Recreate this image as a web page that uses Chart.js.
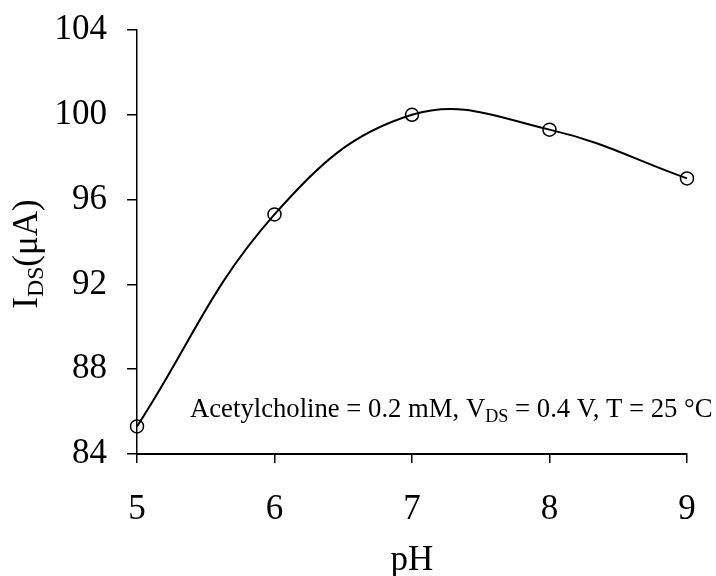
<!DOCTYPE html>
<html>
<head>
<meta charset="utf-8">
<script src="https://cdn.jsdelivr.net/npm/chart.js@4.4.1/dist/chart.umd.min.js"></script>
<style>
  html, body { margin: 0; padding: 0; background: #fff; }
  #wrap { width: 716px; height: 576px; }
</style>
</head>
<body>
<div id="wrap"><canvas id="phchart" width="716" height="576"></canvas></div>
<script>
// pH vs drain current data
var phValues = [5, 6, 7, 8, 9];
var currentValues = [85.3, 95.3, 100, 99.3, 97];
var yTicks = [84, 88, 92, 96, 100, 104];

var FONT = "'Liberation Serif', 'Times New Roman', serif";

// draws a run of text pieces, some of them as subscripts
function drawRich(ctx, parts, x, y, size) {
  var cx = x;
  parts.forEach(function (p) {
    var s = p.sub ? size * 0.68 : size;
    ctx.font = s + "px " + FONT;
    ctx.fillText(p.t, cx, p.sub ? y + size * 0.18 : y);
    cx += ctx.measureText(p.t).width;
  });
  return cx - x;
}

function richWidth(ctx, parts, size) {
  var w = 0;
  parts.forEach(function (p) {
    ctx.font = (p.sub ? size * 0.68 : size) + "px " + FONT;
    w += ctx.measureText(p.t).width;
  });
  return w;
}

const labelsPlugin = {
  id: "labelsPlugin",
  afterDraw: (chart) => {
    let ctx = chart.ctx;
    let area = chart.chartArea;
    ctx.save();
    ctx.fillStyle = "#000";
    ctx.textBaseline = "alphabetic";

    // y axis title, rotated
    let yParts = [{ t: "I" }, { t: "DS", sub: true }, { t: "(\u03bcA)" }];
    let ySize = 35;
    let w = richWidth(ctx, yParts, ySize);
    ctx.save();
    ctx.translate(37, 254);
    ctx.rotate(-Math.PI / 2);
    drawRich(ctx, yParts, -w / 2, 0, ySize);
    ctx.restore();

    // x axis title
    ctx.font = "35px " + FONT;
    ctx.textAlign = "center";
    ctx.fillText("pH", (area.left + area.right) / 2, 570);
    ctx.textAlign = "left";

    // conditions note
    let note = [
      { t: "Acetylcholine = 0.2 mM, V" },
      { t: "DS", sub: true },
      { t: " = 0.4 V, T = 25 \u00b0C" }
    ];
    drawRich(ctx, note, 190, 417, 26.7);
    ctx.restore();
  }
};

var ctx = document.getElementById("phchart").getContext("2d");

var chart = new Chart(ctx, {
  type: "line",
  plugins: [labelsPlugin],
  data: {
    datasets: [{
      data: phValues.map((x, i) => ({ x: x, y: currentValues[i] })),
      borderColor: "#000",
      borderWidth: 2,
      tension: 0.4,
      pointRadius: 6.5,
      pointBorderWidth: 1.5,
      pointBorderColor: "#000",
      pointBackgroundColor: "rgba(0,0,0,0)",
      fill: false,
      clip: false
    }]
  },
  options: {
    responsive: false,
    animation: false,
    layout: { padding: { top: 30, right: 29, left: 0, bottom: 0 } },
    plugins: {
      legend: { display: false },
      tooltip: { enabled: false }
    },
    scales: {
      x: {
        type: "linear",
        min: 5,
        max: 9,
        border: { color: "#000", width: 2 },
        grid: { drawOnChartArea: false, drawTicks: true, tickLength: 9, color: "#000", lineWidth: 1.5 },
        ticks: { stepSize: 1, color: "#000", padding: 26, font: { family: FONT, size: 35 } },
        afterFit: (scale) => {
          scale.height = 122;
          scale.paddingLeft = 0;
          scale.paddingRight = 0;
        }
      },
      y: {
        min: 84,
        max: 104,
        border: { color: "#000", width: 1.5 },
        grid: { drawOnChartArea: false, drawTicks: true, tickLength: 10, color: "#000", lineWidth: 1.5 },
        ticks: {
          color: "#000",
          padding: 20,
          font: { family: FONT, size: 35 },
          callback: (v) => v
        },
        afterBuildTicks: (scale) => { scale.ticks = yTicks.map(v => ({ value: v })); },
        afterFit: (scale) => {
          scale.width = 137;
          scale.paddingTop = 0;
          scale.paddingBottom = 0;
        }
      }
    }
  }
});
</script>
</body>
</html>
